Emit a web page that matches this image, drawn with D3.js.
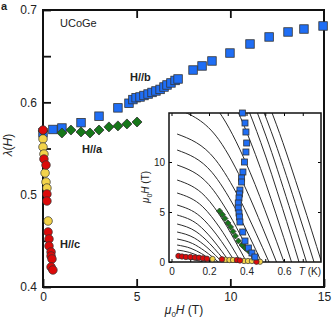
<!DOCTYPE html>
<html>
<head>
<meta charset="utf-8">
<script src="https://cdn.jsdelivr.net/npm/d3@7"></script>
<style>
body { margin: 0; background: #fff; }
text { font-family: "Liberation Sans", Arial, sans-serif; fill: #222; }
</style>
</head>
<body>
<div id="chart"></div>
<script>
// ---- main panel: lambda(H) for three field directions ----
var bField  = [0, 0.53, 1.01, 2.03, 2.99, 4.00, 4.59, 4.80, 4.97, 5.18, 5.39, 5.61, 5.82, 6.03, 6.25, 6.46, 6.62, 6.83, 7.05, 7.21,
               8.01, 8.49, 9.02, 9.98, 11.05, 12.07, 13.08, 13.93, 14.95];
var bLambda = [0.567, 0.5706, 0.5722, 0.578, 0.585, 0.594, 0.599, 0.603, 0.605, 0.6058, 0.6074, 0.609, 0.6107, 0.6123, 0.614, 0.6166, 0.6188, 0.621, 0.6237, 0.6253,
               0.635, 0.6394, 0.6448, 0.6534, 0.6632, 0.6708, 0.6762, 0.6794, 0.6827];

var aField  = [0, 1.01, 1.49, 2.03, 2.51, 2.99, 3.52, 4.00, 4.48, 5.02];
var aLambda = [0.569, 0.5668, 0.570, 0.5679, 0.5668, 0.570, 0.5734, 0.5745, 0.5766, 0.5787];

var cYellowField  = [0, 0, 0.05, 0.11, 0.16, 0.21, 0.27];
var cYellowLambda = [0.5603, 0.5516, 0.544, 0.5235, 0.5137, 0.5072, 0.4715];
var cRedField  = [0, 0.05, 0.16, 0.21, 0.21, 0.27, 0.32, 0.32, 0.43, 0.43, 0.48, 0.43, 0.53];
var cRedLambda = [0.570, 0.5386, 0.5321, 0.5007, 0.4931, 0.4596, 0.452, 0.4444, 0.4379, 0.4336, 0.4303, 0.4217, 0.4184];

var xTicks = [0, 5, 10, 15];
var yTicks = [0.4, 0.45, 0.5, 0.55, 0.6, 0.65, 0.7];

// ---- inset: H-T phase diagram ----
var insBT = [0.378, 0.392, 0.397, 0.401, 0.397, 0.389, 0.381, 0.374, 0.374, 0.365, 0.362, 0.360, 0.356, 0.356, 0.360, 0.362, 0.365, 0.380, 0.392, 0.410, 0.429, 0.445];
var insBH = [14.9, 13.9, 13.0, 11.9, 11.0, 10.0, 9.0, 8.4, 8.0, 7.2, 6.8, 6.4, 5.9, 5.4, 4.9, 4.5, 4.0, 3.0, 2.1, 1.4, 0.9, 0.5];
var insAT = [0.256, 0.271, 0.285, 0.301, 0.315, 0.328, 0.341, 0.357, 0.376, 0.392, 0.411];
var insAH = [5.1, 4.75, 4.35, 3.9, 3.5, 3.05, 2.6, 2.1, 1.7, 1.4, 1.1];
var insRedT = [0.037, 0.056, 0.077, 0.101, 0.125, 0.147, 0.168, 0.189, 0.269, 0.349, 0.365, 0.453];
var insRedH = [0.60, 0.55, 0.50, 0.50, 0.45, 0.43, 0.37, 0.33, 0.27, 0.20, 0.15, 0.03];
var insYelT = [0.219, 0.288, 0.309, 0.328, 0.387, 0.408, 0.429, 0.472];
var insYelH = [0.30, 0.23, 0.20, 0.20, 0.10, 0.10, 0.10, 0.03];

// calculated Hc2(T) lines, points as [T, H]
var hcLines = [
  [[.03,.45],[.077,.36],[.119,.22],[.148,.10],[.17,0]],
  [[.03,.8],[.086,.64],[.133,.39],[.165,.18],[.19,0]],
  [[.03,1.2],[.095,.96],[.147,.59],[.183,.26],[.21,0]],
  [[.03,1.7],[.104,1.36],[.161,.83],[.20,.37],[.23,0]],
  [[.03,2.3],[.113,1.84],[.175,1.13],[.218,.51],[.25,0]],
  [[.03,3.0],[.122,2.4],[.189,1.47],[.235,.66],[.27,0]],
  [[.03,3.8],[.131,3.04],[.203,1.86],[.252,.84],[.29,0]],
  [[.03,4.7],[.14,3.76],[.217,2.3],[.27,1.03],[.31,0]],
  [[.03,5.7],[.153,4.56],[.238,2.79],[.296,1.25],[.34,0]],
  [[.03,6.9],[.167,5.52],[.259,3.38],[.322,1.52],[.37,0]],
  [[.03,8.2],[.18,6.56],[.28,4.02],[.348,1.8],[.40,0]],
  [[.03,9.7],[.198,7.76],[.308,4.75],[.383,2.13],[.44,0]],
  [[.03,11.2],[.216,8.96],[.336,5.49],[.418,2.46],[.48,0]],
  [[.03,12.8],[.234,10.24],[.364,6.27],[.452,2.82],[.52,0]],
  [[.03,15.3],[.252,12.24],[.392,7.5],[.487,3.37],[.56,0]],
  [[.03,18.2],[.27,14.56],[.42,8.92],[.522,4.0],[.60,0]],
  [[.03,21.9],[.288,17.52],[.448,10.73],[.557,4.82],[.64,0]],
  [[.03,24.4],[.306,19.52],[.476,11.96],[.592,5.37],[.68,0]],
  [[.03,25.7],[.324,20.56],[.504,12.59],[.626,5.65],[.72,0]],
  [[.03,26.6],[.342,21.28],[.532,13.03],[.661,5.85],[.76,0]],
  [[.03,28.0],[.36,22.4],[.56,13.72],[.696,6.16],[.80,0]]
];
var insXTicks = [0, 0.1, 0.2, 0.3, 0.4, 0.5, 0.6, 0.7];
var insXLabels = [0, 0.2, 0.4, 0.6];
var insYTicks = [0, 5, 10];

var blue = "#1f6ef5", green = "#17771a", red = "#dc0a0a", yellow = "#f3d34a", edge = "#333";

var svg = d3.select("#chart").append("svg")
    .attr("width", 333)
    .attr("height", 320);

var x = d3.scaleLinear().domain([0, 15]).range([43, 324]);
var y = d3.scaleLinear().domain([0.4, 0.7]).range([287, 10]);

// axes (ticks point inward)
svg.append("g")
    .attr("transform", "translate(0,287)")
    .call(d3.axisBottom(x).tickValues(xTicks).tickSize(-8).tickPadding(5).tickFormat(d3.format("d")))
    .call(function(g) { g.select(".domain").remove(); })
    .selectAll("text").style("font-size", "12px");
svg.append("g")
    .attr("transform", "translate(0,10)")
    .call(d3.axisTop(x).tickValues([5, 10]).tickSize(-8).tickFormat(""))
    .call(function(g) { g.select(".domain").remove(); });
svg.append("g")
    .attr("transform", "translate(43,0)")
    .call(d3.axisLeft(y).tickValues(yTicks).tickSize(-8).tickPadding(6)
        .tickFormat(function(d) { return Math.abs(d * 10 - Math.round(d * 10)) < 1e-6 ? d.toFixed(1) : ""; }))
    .call(function(g) { g.select(".domain").remove(); })
    .selectAll("text").style("font-size", "12px");
svg.selectAll(".tick line").attr("stroke", "#111").attr("stroke-width", 1.8);

svg.append("rect")
    .attr("x", 43).attr("y", 10)
    .attr("width", 281).attr("height", 277)
    .attr("fill", "none")
    .attr("stroke", "#111")
    .attr("stroke-width", 2);

// ---- inset ----
var xi = d3.scaleLinear().domain([0, 0.8]).range([171.5, 321.5]);
var yi = d3.scaleLinear().domain([0, 15]).range([262, 112]);

svg.append("rect")
    .attr("x", 169).attr("y", 113)
    .attr("width", 152).attr("height", 149)
    .attr("fill", "#fff");

svg.append("clipPath").attr("id", "insclip")
    .append("rect")
    .attr("x", 169).attr("y", 113)
    .attr("width", 152).attr("height", 149);

var hcLine = d3.line()
    .x(function(d) { return xi(d[0]); })
    .y(function(d) { return yi(d[1]); })
    .curve(d3.curveMonotoneX);

svg.append("g")
    .attr("clip-path", "url(#insclip)")
    .selectAll("path")
    .data(hcLines)
    .enter()
    .append("path")
    .attr("d", hcLine)
    .attr("fill", "none")
    .attr("stroke", "#2b2b2b")
    .attr("stroke-width", 1);

svg.append("g")
    .attr("transform", "translate(0,262)")
    .call(d3.axisBottom(xi).tickValues(insXTicks).tickSize(-3).tickPadding(6)
        .tickFormat(function(d) { return insXLabels.indexOf(d) >= 0 ? (d === 0 ? "0" : d.toFixed(1)) : ""; }))
    .call(function(g) { g.select(".domain").remove(); })
    .selectAll("text").style("font-size", "10px");
svg.append("g")
    .attr("transform", "translate(0,113)")
    .call(d3.axisTop(xi).tickValues(insXTicks).tickSize(-3).tickFormat(""))
    .call(function(g) { g.select(".domain").remove(); });
svg.append("g")
    .attr("transform", "translate(169,0)")
    .call(d3.axisLeft(yi).tickValues(insYTicks).tickSize(-3).tickPadding(4))
    .call(function(g) { g.select(".domain").remove(); })
    .selectAll("text").style("font-size", "10px");
svg.append("g")
    .attr("transform", "translate(321,0)")
    .call(d3.axisRight(yi).tickValues([5, 10]).tickSize(-3).tickFormat(""))
    .call(function(g) { g.select(".domain").remove(); });

svg.append("rect")
    .attr("x", 169).attr("y", 113)
    .attr("width", 152).attr("height", 149)
    .attr("fill", "none")
    .attr("stroke", "#111")
    .attr("stroke-width", 1.5);

// ---- markers ----
function squares(xs, ys, sx, sy, s, fill) {
    svg.append("g").selectAll("rect")
        .data(d3.range(xs.length))
        .enter()
        .append("rect")
        .attr("x", function(i) { return sx(xs[i]) - s / 2; })
        .attr("y", function(i) { return sy(ys[i]) - s / 2; })
        .attr("width", s).attr("height", s)
        .attr("fill", fill)
        .attr("stroke", edge)
        .attr("stroke-width", 0.8);
}
function diamonds(xs, ys, sx, sy, r, fill) {
    svg.append("g").selectAll("path")
        .data(d3.range(xs.length))
        .enter()
        .append("path")
        .attr("d", "M0," + (-r) + "L" + r + ",0L0," + r + "L" + (-r) + ",0Z")
        .attr("transform", function(i) { return "translate(" + sx(xs[i]) + "," + sy(ys[i]) + ")"; })
        .attr("fill", fill)
        .attr("stroke", edge)
        .attr("stroke-width", 0.8);
}
function circles(xs, ys, sx, sy, r, fill) {
    svg.append("g").selectAll("circle")
        .data(d3.range(xs.length))
        .enter()
        .append("circle")
        .attr("cx", function(i) { return sx(xs[i]); })
        .attr("cy", function(i) { return sy(ys[i]); })
        .attr("r", r)
        .attr("fill", fill)
        .attr("stroke", edge)
        .attr("stroke-width", 0.7);
}

squares(bField, bLambda, x, y, 8.5, blue);
diamonds(aField, aLambda, x, y, 5, green);
circles(cYellowField, cYellowLambda, x, y, 4.3, yellow);
circles(cRedField, cRedLambda, x, y, 4.3, red);

circles(insYelT, insYelH, xi, yi, 2.7, yellow);
circles(insRedT, insRedH, xi, yi, 2.7, red);
diamonds(insAT, insAH, xi, yi, 3, green);
squares(insBT, insBH, xi, yi, 6, blue);

// ---- text ----
svg.append("text").attr("x", 1).attr("y", 10)
    .style("font-size", "11px").style("font-weight", "bold").text("a");
svg.append("text").attr("x", 60).attr("y", 27)
    .style("font-size", "11px").text("UCoGe");
svg.append("text").attr("x", 130).attr("y", 81)
    .style("font-size", "11px").style("font-weight", "bold").text("H//b");
svg.append("text").attr("x", 82).attr("y", 153)
    .style("font-size", "11px").style("font-weight", "bold").text("H//a");
svg.append("text").attr("x", 60).attr("y", 248)
    .style("font-size", "11px").style("font-weight", "bold").text("H//c");

var xl = svg.append("text").attr("x", 184).attr("y", 314)
    .attr("text-anchor", "middle").style("font-size", "12px");
xl.append("tspan").style("font-style", "italic").text("μ");
xl.append("tspan").attr("dy", 3).style("font-size", "8px").text("0");
xl.append("tspan").attr("dy", -3).style("font-style", "italic").text("H");
xl.append("tspan").text(" (T)");

var yl = svg.append("text")
    .attr("transform", "translate(12,145) rotate(-90)")
    .attr("text-anchor", "middle").style("font-size", "12px");
yl.append("tspan").style("font-style", "italic").text("λ");
yl.append("tspan").text("(");
yl.append("tspan").style("font-style", "italic").text("H");
yl.append("tspan").text(")");

var il = svg.append("text")
    .attr("transform", "translate(149,187) rotate(-90)")
    .attr("text-anchor", "middle").style("font-size", "10px");
il.append("tspan").style("font-style", "italic").text("μ");
il.append("tspan").attr("dy", 2.5).style("font-size", "7px").text("0");
il.append("tspan").attr("dy", -2.5).style("font-style", "italic").text("H");
il.append("tspan").text(" (T)");

var tl = svg.append("text").attr("x", 321).attr("y", 275)
    .attr("text-anchor", "end").style("font-size", "10px");
tl.append("tspan").style("font-style", "italic").text("T");
tl.append("tspan").text(" (K)");
</script>
</body>
</html>
